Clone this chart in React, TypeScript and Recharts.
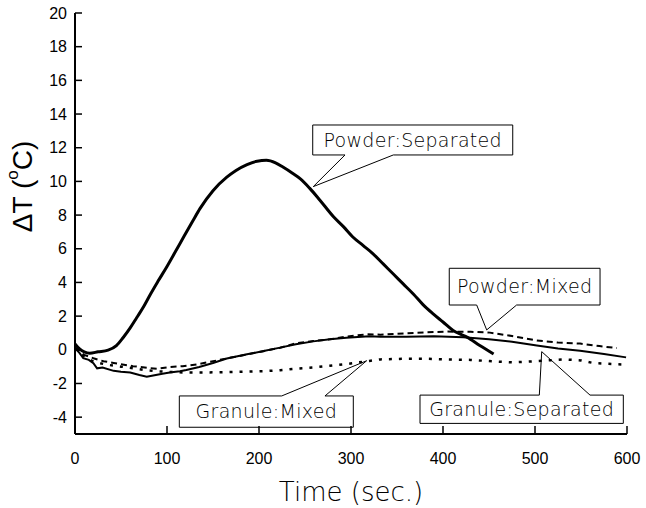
import React from 'react';
import { LineChart, Line, XAxis, YAxis, ReferenceArea, ReferenceLine } from 'recharts';

// Powder:Separated (thick solid)
const powderSepTime = [0, 5, 10, 16, 25, 36, 45, 52, 60, 67, 75, 82, 90, 100, 114, 128, 136, 150, 165, 175, 187, 198, 208, 218, 226, 236, 245, 255, 266, 281, 292, 302, 313, 324, 335, 346, 357, 368, 378, 389, 400, 411, 420, 426, 440, 455];
const powderSepDT = [0.35, 0.05, -0.12, -0.2, -0.12, -0.02, 0.25, 0.7, 1.3, 1.9, 2.6, 3.3, 4.05, 4.95, 6.3, 7.65, 8.4, 9.45, 10.25, 10.65, 11.0, 11.2, 11.25, 11.1, 10.85, 10.5, 10.15, 9.6, 8.9, 7.9, 7.3, 6.7, 6.2, 5.7, 5.1, 4.5, 3.9, 3.3, 2.7, 2.15, 1.65, 1.15, 0.9, 0.75, 0.25, -0.25];

// Granule:Separated (thin solid)
const granuleSepTime = [0, 5, 9, 15, 20, 24, 30, 42, 50, 60, 70, 78, 85, 95, 103, 114, 121, 135, 150, 165, 187, 205, 223, 240, 259, 277, 295, 320, 332, 360, 390, 422, 450, 475, 502, 525, 549, 575, 599];
const granuleSepDT = [0.1, -0.2, -0.5, -0.6, -0.8, -1.1, -1.05, -1.25, -1.3, -1.35, -1.5, -1.6, -1.52, -1.42, -1.35, -1.27, -1.2, -1.02, -0.78, -0.52, -0.27, -0.07, 0.13, 0.33, 0.5, 0.62, 0.72, 0.8, 0.78, 0.78, 0.8, 0.74, 0.62, 0.48, 0.25, 0.08, -0.06, -0.25, -0.45];

// Powder:Mixed (dashed)
const powderMixTime = [0, 5, 10, 20, 31, 42, 49, 63, 78, 89, 103, 117, 132, 150, 168, 187, 205, 223, 241, 259, 277, 295, 317, 332, 360, 380, 404, 430, 451, 475, 502, 525, 549, 570, 589];
const powderMixDT = [0.15, -0.1, -0.3, -0.5, -0.68, -0.78, -0.85, -0.97, -1.07, -1.12, -1.02, -0.97, -0.87, -0.68, -0.48, -0.28, -0.08, 0.12, 0.4, 0.52, 0.62, 0.78, 0.92, 0.9, 0.98, 1.03, 1.08, 1.07, 1.02, 0.82, 0.55, 0.43, 0.37, 0.22, 0.1];

// Granule:Mixed (dotted)
const granuleMixTime = [0, 5, 10, 20, 34, 50, 67, 78, 90, 105, 120, 139, 160, 187, 205, 223, 241, 259, 277, 295, 320, 332, 360, 380, 404, 430, 450, 476, 500, 531, 550, 563, 580, 599];
const granuleMixDT = [0.1, -0.2, -0.4, -0.7, -0.88, -1.0, -1.12, -1.22, -1.28, -1.32, -1.35, -1.35, -1.33, -1.3, -1.27, -1.21, -1.12, -1.05, -0.95, -0.85, -0.66, -0.57, -0.53, -0.53, -0.57, -0.6, -0.67, -0.75, -0.68, -0.57, -0.63, -0.78, -0.83, -0.88];

const xTicks = [0, 100, 200, 300, 400, 500, 600];
const yTicks = [-4, -2, 0, 2, 4, 6, 8, 10, 12, 14, 16, 18, 20];

// callout annotations: label, box (t1,t2,v1,v2), pointer base t's, base v, tip
const callouts = [
  { label: 'Powder:Separated', t1: 258.4, t2: 475.8, v1: 11.57, v2: 13.35, b1: 293.5, b2: 346, bv: 11.57, tipT: 259, tipV: 9.69 },
  { label: 'Powder:Mixed', t1: 406.8, t2: 570.7, v1: 2.66, v2: 4.84, b1: 436.6, b2: 480, bv: 2.66, tipT: 447.5, tipV: 1.18 },
  { label: 'Granule:Separated', t1: 375, t2: 596, v1: -4.37, v2: -2.69, b1: 504.7, b2: 559.8, bv: -2.69, tipT: 507.3, tipV: -0.11 },
  { label: 'Granule:Mixed', t1: 113.4, t2: 302.5, v1: -4.6, v2: -2.74, b1: 224.7, b2: 271.7, bv: -2.74, tipT: 317, tipV: -0.65 },
];

const toData = (ts: number[], vs: number[]) => ts.map((t, i) => ({ t, v: vs[i] }));

const FONT = '"Liberation Sans", Arial, sans-serif';
const THIN = '"DejaVu Sans", sans-serif';
const XM = 19;
const YM = 8;

const XTick = (p: any) => {
  const { x, y, payload } = p;
  const ay = y - XM;
  return (
    <g>
      <line x1={x} x2={x} y1={ay} y2={ay - 8} stroke="#000" strokeWidth={1.5} />
      <text x={x} y={y} dy="0.71em" textAnchor="middle" fontFamily={FONT} fontSize={16} fill="#000">{payload.value}</text>
    </g>
  );
};

const YTick = (p: any) => {
  const { x, y, payload } = p;
  const ax = x + YM;
  return (
    <g>
      <line x1={ax} x2={ax + 7} y1={y} y2={y} stroke="#000" strokeWidth={1.5} />
      <text x={x} y={y} dy="0.355em" textAnchor="end" fontFamily={FONT} fontSize={16} fill="#000">{payload.value}</text>
    </g>
  );
};

const YLabel = (props: any) => {
  const vb = props.viewBox || {};
  const cx = vb.x + 22;
  const cy = vb.y + vb.height / 2 - 37;
  return (
    <text x={cx} y={cy} transform={`rotate(-90 ${cx} ${cy})`} textAnchor="middle" dominantBaseline="central"
      fontFamily={FONT} fontSize={28} fill="#000">
      ΔT (<tspan fontSize={17} dy={-10}>o</tspan><tspan dy={10}>C)</tspan>
    </text>
  );
};

export default function App() {
  return (
    <div style={{ position: 'absolute', left: 0, top: 0, background: '#fff' }}>
      <LineChart width={646} height={508} margin={{ top: 13, right: 19, bottom: 0, left: 0 }}>
        <XAxis dataKey="t" type="number" domain={[0, 600]} ticks={xTicks} interval={0}
          allowDataOverflow height={74} tickSize={0} tickMargin={XM}
          axisLine={{ stroke: '#000', strokeWidth: 2 }} tickLine={false}
          tick={<XTick />}
          label={{ value: 'Time (sec.)', position: 'insideBottom', offset: 7, fontSize: 26, fontWeight: 200, fill: '#000', fontFamily: THIN }} />
        <XAxis xAxisId="top" orientation="top" dataKey="t" type="number" domain={[0, 600]} height={0}
          tick={false} tickLine={false} axisLine={{ stroke: '#000', strokeWidth: 1.5 }} />
        <YAxis type="number" domain={[-5, 20]} ticks={yTicks} interval={0} allowDataOverflow width={75}
          tickSize={0} tickMargin={YM}
          axisLine={{ stroke: '#000', strokeWidth: 2 }} tickLine={false}
          tick={<YTick />}
          label={<YLabel />} />
        <YAxis yAxisId="right" orientation="right" type="number" domain={[-5, 20]} width={0}
          tick={false} tickLine={false} axisLine={{ stroke: '#000', strokeWidth: 2 }} />

        <Line data={toData(granuleMixTime, granuleMixDT)} dataKey="v" stroke="#000" strokeWidth={2.5}
          strokeDasharray="3 7" dot={false} isAnimationActive={false} type="linear" />
        <Line data={toData(powderMixTime, powderMixDT)} dataKey="v" stroke="#000" strokeWidth={2}
          strokeDasharray="6 4" dot={false} isAnimationActive={false} type="linear" />
        <Line data={toData(granuleSepTime, granuleSepDT)} dataKey="v" stroke="#000" strokeWidth={2}
          dot={false} isAnimationActive={false} type="linear" />
        <Line data={toData(powderSepTime, powderSepDT)} dataKey="v" stroke="#000" strokeWidth={3}
          dot={false} isAnimationActive={false} type="monotone" />

        {callouts.map((c) => (
          <ReferenceArea key={'a' + c.label} x1={c.t1} x2={c.t2} y1={c.v1} y2={c.v2}
            fill="#fff" fillOpacity={1} stroke="#000" strokeWidth={1}
            label={{ value: c.label, position: 'center', fontSize: 19, fontWeight: 200, fill: '#000', fontFamily: THIN, letterSpacing: 0.3 }} />
        ))}
        {callouts.map((c) => (
          <ReferenceLine key={'w' + c.label} segment={[{ x: c.b1, y: c.bv }, { x: c.b2, y: c.bv }]}
            stroke="#fff" strokeWidth={2} />
        ))}
        {callouts.map((c) => (
          <ReferenceLine key={'l' + c.label} segment={[{ x: c.b1, y: c.bv }, { x: c.tipT, y: c.tipV }]}
            stroke="#000" strokeWidth={1} />
        ))}
        {callouts.map((c) => (
          <ReferenceLine key={'r' + c.label} segment={[{ x: c.b2, y: c.bv }, { x: c.tipT, y: c.tipV }]}
            stroke="#000" strokeWidth={1} />
        ))}
      </LineChart>
    </div>
  );
}
